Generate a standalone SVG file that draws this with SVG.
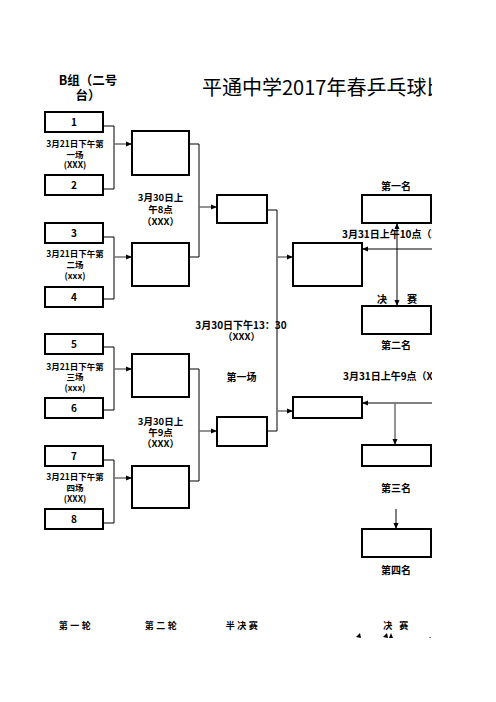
<svg xmlns="http://www.w3.org/2000/svg" width="496" height="702" viewBox="0 0 496 702">
<style>
.box{fill:#fff;stroke:#000;stroke-width:2}
.br{fill:none;stroke:#000;stroke-width:1}
.ar{fill:none;stroke:#707070;stroke-width:1.5;marker-end:url(#ah)}
.ak{fill:none;stroke:#000;stroke-width:1;marker-end:url(#ah)}
text{font-family:"Noto Sans CJK SC","Noto Sans",sans-serif;font-weight:bold;fill:#000;text-anchor:middle}
.s8{font-size:8.5px}
.s10{font-size:10px}
.s9{font-size:9.5px}
.bt{font-size:9px;letter-spacing:2.5px}
.ttl{font-size:20px;font-weight:normal;text-anchor:start}
</style>
<defs>
<marker id="ah" markerUnits="userSpaceOnUse" markerWidth="6" markerHeight="6" refX="6" refY="3" orient="auto">
<path d="M0,0.5 L6,3 L0,5.5 Z" fill="#000"/>
</marker>
<marker id="as" markerUnits="userSpaceOnUse" markerWidth="6" markerHeight="6" refX="6" refY="3" orient="auto-start-reverse">
<path d="M0,0.5 L6,3 L0,5.5 Z" fill="#000"/>
</marker>
<clipPath id="cl"><rect x="0" y="0" width="432" height="702"/></clipPath>
</defs>
<rect width="496" height="702" fill="#fff"/>
<g clip-path="url(#cl)">
<text class="ttl" x="202" y="95">平通中学2017年春乒乓球比赛</text>
<text x="88" y="84.5" style="font-size:12.5px">B组（二号</text>
<text x="88" y="99.5" style="font-size:12.5px">台）</text>

<g id="connectors">
<path class="br" d="M103,126 H114 V189 H103"/>
<path class="br" d="M103,237 H114 V299 H103"/>
<path class="br" d="M103,347 H114 V410 H103"/>
<path class="br" d="M103,460 H114 V523 H103"/>
<path class="ar" d="M114,144 H132"/>
<path class="ar" d="M114,257 H132"/>
<path class="ar" d="M114,369 H132"/>
<path class="ar" d="M114,478 H132"/>
<path class="br" d="M189,144 H199 V257 H189"/>
<path class="br" d="M189,369 H199 V481 H189"/>
<path class="ar" d="M199,207 H217"/>
<path class="ar" d="M199,431 H217"/>
<path class="br" d="M267,210 H277 V431 H267"/>
<path class="ar" d="M277,257 H293"/>
<path class="ar" d="M277,411 H293"/>
<path class="ak" d="M440,249 H362"/>
<path class="ak" d="M440,403 H362"/>
<path d="M397,223 V306" fill="none" stroke="#000" stroke-width="1" marker-start="url(#as)" marker-end="url(#ah)"/>
<path class="ar" d="M395,403 V445"/>
<path class="ak" d="M396,509 V529"/>
</g>

<g id="r1-1"><rect class="box" x="45" y="112" width="58" height="20"/><text class="s10" x="74" y="125.5">1</text></g>
<g id="r1-2"><rect class="box" x="45" y="175" width="58" height="20"/><text class="s10" x="74" y="188.5">2</text></g>
<g id="r1-3"><rect class="box" x="45" y="223" width="58" height="20"/><text class="s10" x="74" y="236.5">3</text></g>
<g id="r1-4"><rect class="box" x="45" y="287" width="58" height="20"/><text class="s10" x="74" y="300.5">4</text></g>
<g id="r1-5"><rect class="box" x="45" y="334" width="58" height="20"/><text class="s10" x="74" y="347.5">5</text></g>
<g id="r1-6"><rect class="box" x="45" y="398" width="58" height="20"/><text class="s10" x="74" y="411.5">6</text></g>
<g id="r1-7"><rect class="box" x="45" y="446" width="58" height="20"/><text class="s10" x="74" y="459.5">7</text></g>
<g id="r1-8"><rect class="box" x="45" y="509" width="58" height="20"/><text class="s10" x="74" y="522.5">8</text></g>

<g id="m1"><text class="s8" x="75" y="147">3月21日下午第</text><text class="s8" x="75" y="157.5">一场</text><text class="s8" x="75" y="168">(XXX)</text></g>
<g id="m2"><text class="s8" x="75" y="257">3月21日下午第</text><text class="s8" x="75" y="267.5">二场</text><text class="s8" x="75" y="278.5">(xxx)</text></g>
<g id="m3"><text class="s8" x="75" y="369.7">3月21日下午第</text><text class="s8" x="75" y="380">三场</text><text class="s8" x="75" y="390.5">(xxx)</text></g>
<g id="m4"><text class="s8" x="75" y="479.7">3月21日下午第</text><text class="s8" x="75" y="490.5">四场</text><text class="s8" x="75" y="501.5">(XXX)</text></g>

<g id="r2-a"><rect class="box" x="132" y="131" width="57" height="44"/></g>
<g id="r2-b"><rect class="box" x="132" y="243" width="57" height="43"/></g>
<g id="r2-c"><rect class="box" x="132" y="354" width="57" height="43"/></g>
<g id="r2-d"><rect class="box" x="132" y="466" width="57" height="42"/></g>
<g id="r2-t1"><text class="s9" x="160.5" y="201">3月30日上</text><text class="s9" x="160.5" y="212.5">午8点</text><text class="s9" x="160.5" y="225">（XXX）</text></g>
<g id="r2-t2"><text class="s9" x="160.5" y="424.5">3月30日上</text><text class="s9" x="160.5" y="435.5">午9点</text><text class="s9" x="160.5" y="447">（XXX）</text></g>

<g id="sf-a"><rect class="box" x="217" y="195" width="50" height="28"/></g>
<g id="sf-b"><rect class="box" x="217" y="417" width="50" height="29"/></g>
<g id="sf-t"><text class="s10" x="241" y="328.5">3月30日下午13：30</text><text class="s9" x="241.5" y="340">（XXX）</text><text class="s10" x="241.5" y="381">第一场</text></g>

<g id="f-a"><rect class="box" x="293" y="243" width="69" height="43"/></g>
<g id="f-b"><rect class="box" x="293" y="397" width="69" height="21"/></g>

<g id="p1"><text class="s10" x="396" y="189.5">第一名</text><rect class="box" x="362" y="195" width="69" height="28"/></g>
<text class="s10" x="342" y="237.5" style="text-anchor:start">3月31日上午10点（XXX）</text>
<text class="s10" x="382" y="302.5">决</text><text class="s10" x="412" y="302.5">赛</text>
<g id="p2"><rect class="box" x="362" y="306" width="69" height="28"/><text class="s10" x="396" y="348.5">第二名</text></g>
<text class="s10" x="343" y="380" style="text-anchor:start">3月31日上午9点（XXX）</text>
<g id="p3"><rect class="box" x="362" y="445" width="69" height="21"/><text class="s10" x="396" y="492">第三名</text></g>
<g id="p4"><rect class="box" x="362" y="529" width="69" height="28"/><text class="s10" x="396" y="574">第四名</text></g>

<text class="bt" x="76" y="629">第一轮</text>
<text class="bt" x="162" y="629">第二轮</text>
<text class="bt" x="243" y="629">半决赛</text>
<text class="bt" x="397" y="629">决 赛</text>
<polygon points="356,637 360,633 361,638" fill="#000"/>
<polygon points="383,637 387,633 388,638" fill="#000"/>
<polygon points="389,638 391,633 393,638" fill="#000"/>
<rect x="429.5" y="637" width="1" height="1" fill="#000"/>
</g>
</svg>
